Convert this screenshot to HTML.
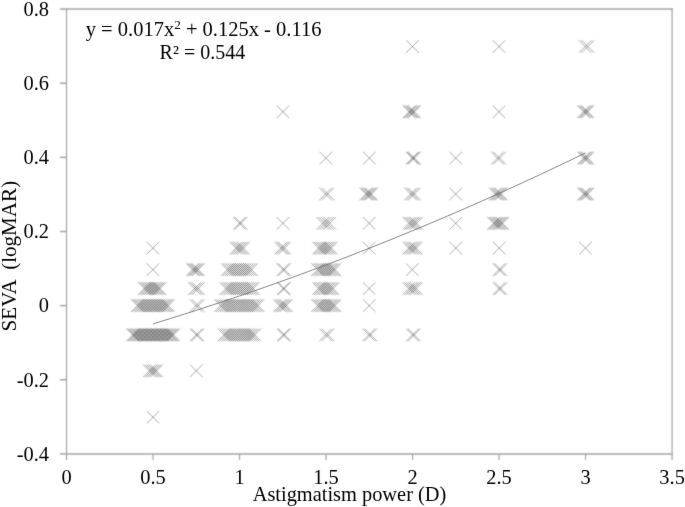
<!DOCTYPE html>
<html><head><meta charset="utf-8"><style>
html,body{margin:0;padding:0;background:#fff;}
svg{display:block;font-family:"Liberation Serif",serif;font-size:20.4px;fill:#000;}
</style></head><body>
<svg width="685" height="507" viewBox="0 0 685 507">
<defs><filter id="b" x="0" y="0" width="685" height="507" filterUnits="userSpaceOnUse" color-interpolation-filters="sRGB"><feConvolveMatrix order="3" kernelMatrix="1 2 1 2 12 2 1 2 1" edgeMode="duplicate" preserveAlpha="false"/></filter>
<filter id="t" x="0" y="0" width="685" height="507" filterUnits="userSpaceOnUse" color-interpolation-filters="sRGB"><feConvolveMatrix order="3" kernelMatrix="0 1 0 1 12 1 0 1 0" edgeMode="duplicate" preserveAlpha="false"/></filter></defs>
<g filter="url(#b)">
<rect width="685" height="507" fill="#fff"/>
<line x1="60.0" y1="9.1" x2="672.7" y2="9.1" stroke="#a4a4a4" stroke-width="1.5"/>
<line x1="65.9" y1="453.9" x2="672.7" y2="453.9" stroke="#a4a4a4" stroke-width="1.5"/>
<line x1="66.5" y1="8.35" x2="66.5" y2="459.9" stroke="#a4a4a4" stroke-width="1.2"/>
<line x1="672.1" y1="8.35" x2="672.1" y2="459.9" stroke="#a4a4a4" stroke-width="1.2"/>
<line x1="60.0" y1="83.23" x2="66.5" y2="83.23" stroke="#a4a4a4" stroke-width="1.5"/>
<line x1="60.0" y1="157.37" x2="66.5" y2="157.37" stroke="#a4a4a4" stroke-width="1.5"/>
<line x1="60.0" y1="231.50" x2="66.5" y2="231.50" stroke="#a4a4a4" stroke-width="1.5"/>
<line x1="60.0" y1="305.63" x2="66.5" y2="305.63" stroke="#a4a4a4" stroke-width="1.5"/>
<line x1="60.0" y1="379.77" x2="66.5" y2="379.77" stroke="#a4a4a4" stroke-width="1.5"/>
<line x1="60.0" y1="453.90" x2="66.5" y2="453.90" stroke="#a4a4a4" stroke-width="1.5"/>
<line x1="153.01" y1="453.9" x2="153.01" y2="459.9" stroke="#a4a4a4" stroke-width="1.2"/>
<line x1="239.53" y1="453.9" x2="239.53" y2="459.9" stroke="#a4a4a4" stroke-width="1.2"/>
<line x1="326.04" y1="453.9" x2="326.04" y2="459.9" stroke="#a4a4a4" stroke-width="1.2"/>
<line x1="412.56" y1="453.9" x2="412.56" y2="459.9" stroke="#a4a4a4" stroke-width="1.2"/>
<line x1="499.07" y1="453.9" x2="499.07" y2="459.9" stroke="#a4a4a4" stroke-width="1.2"/>
<line x1="585.59" y1="453.9" x2="585.59" y2="459.9" stroke="#a4a4a4" stroke-width="1.2"/>
<g stroke="#000" stroke-width="1.0" fill="none" stroke-opacity="0.33"><path d="M146.60 241.85L159.20 254.45M146.60 254.45L159.20 241.85"/><path d="M146.60 263.35L159.20 275.95M146.60 275.95L159.20 263.35"/><path d="M137.95 282.25L150.55 294.85M137.95 294.85L150.55 282.25"/><path d="M139.53 282.25L152.13 294.85M139.53 294.85L152.13 282.25"/><path d="M141.11 282.25L153.71 294.85M141.11 294.85L153.71 282.25"/><path d="M142.69 282.25L155.29 294.85M142.69 294.85L155.29 282.25"/><path d="M144.27 282.25L156.87 294.85M144.27 294.85L156.87 282.25"/><path d="M145.85 282.25L158.45 294.85M145.85 294.85L158.45 282.25"/><path d="M147.43 282.25L160.03 294.85M147.43 294.85L160.03 282.25"/><path d="M149.01 282.25L161.61 294.85M149.01 294.85L161.61 282.25"/><path d="M150.59 282.25L163.19 294.85M150.59 294.85L163.19 282.25"/><path d="M152.17 282.25L164.77 294.85M152.17 294.85L164.77 282.25"/><path d="M153.75 282.25L166.35 294.85M153.75 294.85L166.35 282.25"/><path d="M131.05 299.30L143.65 311.90M131.05 311.90L143.65 299.30"/><path d="M132.68 299.30L145.28 311.90M132.68 311.90L145.28 299.30"/><path d="M134.31 299.30L146.91 311.90M134.31 311.90L146.91 299.30"/><path d="M135.94 299.30L148.54 311.90M135.94 311.90L148.54 299.30"/><path d="M137.58 299.30L150.18 311.90M137.58 311.90L150.18 299.30"/><path d="M139.21 299.30L151.81 311.90M139.21 311.90L151.81 299.30"/><path d="M140.84 299.30L153.44 311.90M140.84 311.90L153.44 299.30"/><path d="M142.47 299.30L155.07 311.90M142.47 311.90L155.07 299.30"/><path d="M144.10 299.30L156.70 311.90M144.10 311.90L156.70 299.30"/><path d="M145.73 299.30L158.33 311.90M145.73 311.90L158.33 299.30"/><path d="M147.37 299.30L159.97 311.90M147.37 311.90L159.97 299.30"/><path d="M149.00 299.30L161.60 311.90M149.00 311.90L161.60 299.30"/><path d="M150.63 299.30L163.23 311.90M150.63 311.90L163.23 299.30"/><path d="M152.26 299.30L164.86 311.90M152.26 311.90L164.86 299.30"/><path d="M153.89 299.30L166.49 311.90M153.89 311.90L166.49 299.30"/><path d="M155.52 299.30L168.12 311.90M155.52 311.90L168.12 299.30"/><path d="M157.16 299.30L169.76 311.90M157.16 311.90L169.76 299.30"/><path d="M158.79 299.30L171.39 311.90M158.79 311.90L171.39 299.30"/><path d="M160.42 299.30L173.02 311.90M160.42 311.90L173.02 299.30"/><path d="M162.05 299.30L174.65 311.90M162.05 311.90L174.65 299.30"/><path d="M126.25 328.58L138.85 341.18M126.25 341.18L138.85 328.58"/><path d="M127.57 328.58L140.17 341.18M127.57 341.18L140.17 328.58"/><path d="M128.90 328.58L141.50 341.18M128.90 341.18L141.50 328.58"/><path d="M130.22 328.58L142.82 341.18M130.22 341.18L142.82 328.58"/><path d="M131.54 328.58L144.14 341.18M131.54 341.18L144.14 328.58"/><path d="M132.86 328.58L145.46 341.18M132.86 341.18L145.46 328.58"/><path d="M134.19 328.58L146.79 341.18M134.19 341.18L146.79 328.58"/><path d="M135.51 328.58L148.11 341.18M135.51 341.18L148.11 328.58"/><path d="M136.83 328.58L149.43 341.18M136.83 341.18L149.43 328.58"/><path d="M138.15 328.58L150.75 341.18M138.15 341.18L150.75 328.58"/><path d="M139.48 328.58L152.08 341.18M139.48 341.18L152.08 328.58"/><path d="M140.80 328.58L153.40 341.18M140.80 341.18L153.40 328.58"/><path d="M142.12 328.58L154.72 341.18M142.12 341.18L154.72 328.58"/><path d="M143.44 328.58L156.04 341.18M143.44 341.18L156.04 328.58"/><path d="M144.77 328.58L157.37 341.18M144.77 341.18L157.37 328.58"/><path d="M146.09 328.58L158.69 341.18M146.09 341.18L158.69 328.58"/><path d="M147.41 328.58L160.01 341.18M147.41 341.18L160.01 328.58"/><path d="M148.73 328.58L161.33 341.18M148.73 341.18L161.33 328.58"/><path d="M150.06 328.58L162.66 341.18M150.06 341.18L162.66 328.58"/><path d="M151.38 328.58L163.98 341.18M151.38 341.18L163.98 328.58"/><path d="M152.70 328.58L165.30 341.18M152.70 341.18L165.30 328.58"/><path d="M154.02 328.58L166.62 341.18M154.02 341.18L166.62 328.58"/><path d="M155.35 328.58L167.95 341.18M155.35 341.18L167.95 328.58"/><path d="M156.67 328.58L169.27 341.18M156.67 341.18L169.27 328.58"/><path d="M157.99 328.58L170.59 341.18M157.99 341.18L170.59 328.58"/><path d="M159.31 328.58L171.91 341.18M159.31 341.18L171.91 328.58"/><path d="M160.64 328.58L173.24 341.18M160.64 341.18L173.24 328.58"/><path d="M161.96 328.58L174.56 341.18M161.96 341.18L174.56 328.58"/><path d="M163.28 328.58L175.88 341.18M163.28 341.18L175.88 328.58"/><path d="M164.60 328.58L177.20 341.18M164.60 341.18L177.20 328.58"/><path d="M165.93 328.58L178.53 341.18M165.93 341.18L178.53 328.58"/><path d="M167.25 328.58L179.85 341.18M167.25 341.18L179.85 328.58"/><path d="M143.05 364.54L155.65 377.14M143.05 377.14L155.65 364.54"/><path d="M144.85 364.54L157.45 377.14M144.85 377.14L157.45 364.54"/><path d="M146.65 364.54L159.25 377.14M146.65 377.14L159.25 364.54"/><path d="M148.45 364.54L161.05 377.14M148.45 377.14L161.05 364.54"/><path d="M150.25 364.54L162.85 377.14M150.25 377.14L162.85 364.54"/><path d="M146.70 410.87L159.30 423.47M146.70 423.47L159.30 410.87"/><path d="M186.15 263.35L198.75 275.95M186.15 275.95L198.75 263.35"/><path d="M187.62 263.35L200.23 275.95M187.62 275.95L200.23 263.35"/><path d="M189.10 263.35L201.70 275.95M189.10 275.95L201.70 263.35"/><path d="M190.58 263.35L203.18 275.95M190.58 275.95L203.18 263.35"/><path d="M192.05 263.35L204.65 275.95M192.05 275.95L204.65 263.35"/><path d="M188.15 282.25L200.75 294.85M188.15 294.85L200.75 282.25"/><path d="M190.10 282.25L202.70 294.85M190.10 294.85L202.70 282.25"/><path d="M192.05 282.25L204.65 294.85M192.05 294.85L204.65 282.25"/><path d="M189.65 299.30L202.25 311.90M189.65 311.90L202.25 299.30"/><path d="M191.95 299.30L204.55 311.90M191.95 311.90L204.55 299.30"/><path d="M189.90 328.58L202.50 341.18M189.90 341.18L202.50 328.58"/><path d="M191.50 328.58L204.10 341.18M191.50 341.18L204.10 328.58"/><path d="M190.00 364.54L202.60 377.14M190.00 377.14L202.60 364.54"/><path d="M233.15 217.01L245.75 229.61M233.15 229.61L245.75 217.01"/><path d="M234.75 217.01L247.35 229.61M234.75 229.61L247.35 217.01"/><path d="M229.65 241.85L242.25 254.45M229.65 254.45L242.25 241.85"/><path d="M231.52 241.85L244.12 254.45M231.52 254.45L244.12 241.85"/><path d="M233.40 241.85L246.00 254.45M233.40 254.45L246.00 241.85"/><path d="M235.27 241.85L247.88 254.45M235.27 254.45L247.88 241.85"/><path d="M237.15 241.85L249.75 254.45M237.15 254.45L249.75 241.85"/><path d="M220.95 263.35L233.55 275.95M220.95 275.95L233.55 263.35"/><path d="M222.98 263.35L235.58 275.95M222.98 275.95L235.58 263.35"/><path d="M225.02 263.35L237.62 275.95M225.02 275.95L237.62 263.35"/><path d="M227.05 263.35L239.65 275.95M227.05 275.95L239.65 263.35"/><path d="M229.08 263.35L241.68 275.95M229.08 275.95L241.68 263.35"/><path d="M231.12 263.35L243.72 275.95M231.12 275.95L243.72 263.35"/><path d="M233.15 263.35L245.75 275.95M233.15 275.95L245.75 263.35"/><path d="M235.18 263.35L247.78 275.95M235.18 275.95L247.78 263.35"/><path d="M237.22 263.35L249.82 275.95M237.22 275.95L249.82 263.35"/><path d="M239.25 263.35L251.85 275.95M239.25 275.95L251.85 263.35"/><path d="M241.28 263.35L253.88 275.95M241.28 275.95L253.88 263.35"/><path d="M243.32 263.35L255.92 275.95M243.32 275.95L255.92 263.35"/><path d="M245.35 263.35L257.95 275.95M245.35 275.95L257.95 263.35"/><path d="M219.55 282.25L232.15 294.85M219.55 294.85L232.15 282.25"/><path d="M221.51 282.25L234.11 294.85M221.51 294.85L234.11 282.25"/><path d="M223.48 282.25L236.08 294.85M223.48 294.85L236.08 282.25"/><path d="M225.44 282.25L238.04 294.85M225.44 294.85L238.04 282.25"/><path d="M227.41 282.25L240.01 294.85M227.41 294.85L240.01 282.25"/><path d="M229.37 282.25L241.97 294.85M229.37 294.85L241.97 282.25"/><path d="M231.34 282.25L243.94 294.85M231.34 294.85L243.94 282.25"/><path d="M233.30 282.25L245.90 294.85M233.30 294.85L245.90 282.25"/><path d="M235.26 282.25L247.86 294.85M235.26 294.85L247.86 282.25"/><path d="M237.23 282.25L249.83 294.85M237.23 294.85L249.83 282.25"/><path d="M239.19 282.25L251.79 294.85M239.19 294.85L251.79 282.25"/><path d="M241.16 282.25L253.76 294.85M241.16 294.85L253.76 282.25"/><path d="M243.12 282.25L255.72 294.85M243.12 294.85L255.72 282.25"/><path d="M245.09 282.25L257.69 294.85M245.09 294.85L257.69 282.25"/><path d="M247.05 282.25L259.65 294.85M247.05 294.85L259.65 282.25"/><path d="M214.25 299.30L226.85 311.90M214.25 311.90L226.85 299.30"/><path d="M216.13 299.30L228.73 311.90M216.13 311.90L228.73 299.30"/><path d="M218.01 299.30L230.61 311.90M218.01 311.90L230.61 299.30"/><path d="M219.89 299.30L232.49 311.90M219.89 311.90L232.49 299.30"/><path d="M221.77 299.30L234.37 311.90M221.77 311.90L234.37 299.30"/><path d="M223.65 299.30L236.25 311.90M223.65 311.90L236.25 299.30"/><path d="M225.53 299.30L238.13 311.90M225.53 311.90L238.13 299.30"/><path d="M227.41 299.30L240.01 311.90M227.41 311.90L240.01 299.30"/><path d="M229.29 299.30L241.89 311.90M229.29 311.90L241.89 299.30"/><path d="M231.17 299.30L243.77 311.90M231.17 311.90L243.77 299.30"/><path d="M233.05 299.30L245.65 311.90M233.05 311.90L245.65 299.30"/><path d="M234.93 299.30L247.53 311.90M234.93 311.90L247.53 299.30"/><path d="M236.81 299.30L249.41 311.90M236.81 311.90L249.41 299.30"/><path d="M238.69 299.30L251.29 311.90M238.69 311.90L251.29 299.30"/><path d="M240.57 299.30L253.17 311.90M240.57 311.90L253.17 299.30"/><path d="M242.45 299.30L255.05 311.90M242.45 311.90L255.05 299.30"/><path d="M244.33 299.30L256.93 311.90M244.33 311.90L256.93 299.30"/><path d="M246.21 299.30L258.81 311.90M246.21 311.90L258.81 299.30"/><path d="M248.09 299.30L260.69 311.90M248.09 311.90L260.69 299.30"/><path d="M249.97 299.30L262.57 311.90M249.97 311.90L262.57 299.30"/><path d="M251.85 299.30L264.45 311.90M251.85 311.90L264.45 299.30"/><path d="M217.75 328.58L230.35 341.18M217.75 341.18L230.35 328.58"/><path d="M219.67 328.58L232.27 341.18M219.67 341.18L232.27 328.58"/><path d="M221.59 328.58L234.19 341.18M221.59 341.18L234.19 328.58"/><path d="M223.51 328.58L236.11 341.18M223.51 341.18L236.11 328.58"/><path d="M225.43 328.58L238.03 341.18M225.43 341.18L238.03 328.58"/><path d="M227.34 328.58L239.94 341.18M227.34 341.18L239.94 328.58"/><path d="M229.26 328.58L241.86 341.18M229.26 341.18L241.86 328.58"/><path d="M231.18 328.58L243.78 341.18M231.18 341.18L243.78 328.58"/><path d="M233.10 328.58L245.70 341.18M233.10 341.18L245.70 328.58"/><path d="M235.02 328.58L247.62 341.18M235.02 341.18L247.62 328.58"/><path d="M236.94 328.58L249.54 341.18M236.94 341.18L249.54 328.58"/><path d="M238.86 328.58L251.46 341.18M238.86 341.18L251.46 328.58"/><path d="M240.78 328.58L253.38 341.18M240.78 341.18L253.38 328.58"/><path d="M242.69 328.58L255.29 341.18M242.69 341.18L255.29 328.58"/><path d="M244.61 328.58L257.21 341.18M244.61 341.18L257.21 328.58"/><path d="M246.53 328.58L259.13 341.18M246.53 341.18L259.13 328.58"/><path d="M248.45 328.58L261.05 341.18M248.45 341.18L261.05 328.58"/><path d="M276.60 105.44L289.20 118.04M276.60 118.04L289.20 105.44"/><path d="M276.70 217.01L289.30 229.61M276.70 229.61L289.30 217.01"/><path d="M274.55 241.85L287.15 254.45M274.55 254.45L287.15 241.85"/><path d="M276.40 241.85L289.00 254.45M276.40 254.45L289.00 241.85"/><path d="M278.25 241.85L290.85 254.45M278.25 254.45L290.85 241.85"/><path d="M276.55 263.35L289.15 275.95M276.55 275.95L289.15 263.35"/><path d="M278.25 263.35L290.85 275.95M278.25 275.95L290.85 263.35"/><path d="M276.95 282.25L289.55 294.85M276.95 294.85L289.55 282.25"/><path d="M277.95 282.25L290.55 294.85M277.95 294.85L290.55 282.25"/><path d="M273.25 299.30L285.85 311.90M273.25 311.90L285.85 299.30"/><path d="M274.95 299.30L287.55 311.90M274.95 311.90L287.55 299.30"/><path d="M276.65 299.30L289.25 311.90M276.65 311.90L289.25 299.30"/><path d="M278.35 299.30L290.95 311.90M278.35 311.90L290.95 299.30"/><path d="M280.05 299.30L292.65 311.90M280.05 311.90L292.65 299.30"/><path d="M276.95 328.58L289.55 341.18M276.95 341.18L289.55 328.58"/><path d="M278.25 328.58L290.85 341.18M278.25 341.18L290.85 328.58"/><path d="M319.60 151.77L332.20 164.37M319.60 164.37L332.20 151.77"/><path d="M319.15 187.73L331.75 200.33M319.15 200.33L331.75 187.73"/><path d="M321.55 187.73L334.15 200.33M321.55 200.33L334.15 187.73"/><path d="M316.35 217.01L328.95 229.61M316.35 229.61L328.95 217.01"/><path d="M318.72 217.01L331.32 229.61M318.72 229.61L331.32 217.01"/><path d="M321.08 217.01L333.68 229.61M321.08 229.61L333.68 217.01"/><path d="M323.45 217.01L336.05 229.61M323.45 229.61L336.05 217.01"/><path d="M312.25 241.85L324.85 254.45M312.25 254.45L324.85 241.85"/><path d="M314.06 241.85L326.66 254.45M314.06 254.45L326.66 241.85"/><path d="M315.88 241.85L328.48 254.45M315.88 254.45L328.48 241.85"/><path d="M317.69 241.85L330.29 254.45M317.69 254.45L330.29 241.85"/><path d="M319.51 241.85L332.11 254.45M319.51 254.45L332.11 241.85"/><path d="M321.32 241.85L333.92 254.45M321.32 254.45L333.92 241.85"/><path d="M323.14 241.85L335.74 254.45M323.14 254.45L335.74 241.85"/><path d="M324.95 241.85L337.55 254.45M324.95 254.45L337.55 241.85"/><path d="M311.25 263.35L323.85 275.95M311.25 275.95L323.85 263.35"/><path d="M312.99 263.35L325.59 275.95M312.99 275.95L325.59 263.35"/><path d="M314.73 263.35L327.33 275.95M314.73 275.95L327.33 263.35"/><path d="M316.47 263.35L329.07 275.95M316.47 275.95L329.07 263.35"/><path d="M318.21 263.35L330.81 275.95M318.21 275.95L330.81 263.35"/><path d="M319.95 263.35L332.55 275.95M319.95 275.95L332.55 263.35"/><path d="M321.69 263.35L334.29 275.95M321.69 275.95L334.29 263.35"/><path d="M323.43 263.35L336.03 275.95M323.43 275.95L336.03 263.35"/><path d="M325.17 263.35L337.77 275.95M325.17 275.95L337.77 263.35"/><path d="M326.91 263.35L339.51 275.95M326.91 275.95L339.51 263.35"/><path d="M328.65 263.35L341.25 275.95M328.65 275.95L341.25 263.35"/><path d="M312.25 282.25L324.85 294.85M312.25 294.85L324.85 282.25"/><path d="M314.06 282.25L326.66 294.85M314.06 294.85L326.66 282.25"/><path d="M315.88 282.25L328.48 294.85M315.88 294.85L328.48 282.25"/><path d="M317.69 282.25L330.29 294.85M317.69 294.85L330.29 282.25"/><path d="M319.50 282.25L332.10 294.85M319.50 294.85L332.10 282.25"/><path d="M321.31 282.25L333.91 294.85M321.31 294.85L333.91 282.25"/><path d="M323.12 282.25L335.73 294.85M323.12 294.85L335.73 282.25"/><path d="M324.94 282.25L337.54 294.85M324.94 294.85L337.54 282.25"/><path d="M326.75 282.25L339.35 294.85M326.75 294.85L339.35 282.25"/><path d="M311.25 299.30L323.85 311.90M311.25 311.90L323.85 299.30"/><path d="M312.99 299.30L325.59 311.90M312.99 311.90L325.59 299.30"/><path d="M314.73 299.30L327.33 311.90M314.73 311.90L327.33 299.30"/><path d="M316.47 299.30L329.07 311.90M316.47 311.90L329.07 299.30"/><path d="M318.21 299.30L330.81 311.90M318.21 311.90L330.81 299.30"/><path d="M319.95 299.30L332.55 311.90M319.95 311.90L332.55 299.30"/><path d="M321.69 299.30L334.29 311.90M321.69 311.90L334.29 299.30"/><path d="M323.43 299.30L336.03 311.90M323.43 311.90L336.03 299.30"/><path d="M325.17 299.30L337.77 311.90M325.17 311.90L337.77 299.30"/><path d="M326.91 299.30L339.51 311.90M326.91 311.90L339.51 299.30"/><path d="M328.65 299.30L341.25 311.90M328.65 311.90L341.25 299.30"/><path d="M319.25 328.58L331.85 341.18M319.25 341.18L331.85 328.58"/><path d="M321.65 328.58L334.25 341.18M321.65 341.18L334.25 328.58"/><path d="M363.00 151.77L375.60 164.37M363.00 164.37L375.60 151.77"/><path d="M359.45 187.73L372.05 200.33M359.45 200.33L372.05 187.73"/><path d="M360.90 187.73L373.50 200.33M360.90 200.33L373.50 187.73"/><path d="M362.35 187.73L374.95 200.33M362.35 200.33L374.95 187.73"/><path d="M363.80 187.73L376.40 200.33M363.80 200.33L376.40 187.73"/><path d="M365.25 187.73L377.85 200.33M365.25 200.33L377.85 187.73"/><path d="M362.90 217.01L375.50 229.61M362.90 229.61L375.50 217.01"/><path d="M362.90 241.85L375.50 254.45M362.90 254.45L375.50 241.85"/><path d="M362.90 282.25L375.50 294.85M362.90 294.85L375.50 282.25"/><path d="M362.90 299.30L375.50 311.90M362.90 311.90L375.50 299.30"/><path d="M362.50 328.58L375.10 341.18M362.50 341.18L375.10 328.58"/><path d="M364.50 328.58L377.10 341.18M364.50 341.18L377.10 328.58"/><path d="M406.20 40.20L418.80 52.80M406.20 52.80L418.80 40.20"/><path d="M402.65 105.44L415.25 118.04M402.65 118.04L415.25 105.44"/><path d="M404.02 105.44L416.62 118.04M404.02 118.04L416.62 105.44"/><path d="M405.40 105.44L418.00 118.04M405.40 118.04L418.00 105.44"/><path d="M406.77 105.44L419.38 118.04M406.77 118.04L419.38 105.44"/><path d="M408.15 105.44L420.75 118.04M408.15 118.04L420.75 105.44"/><path d="M405.85 151.77L418.45 164.37M405.85 164.37L418.45 151.77"/><path d="M407.00 151.77L419.60 164.37M407.00 164.37L419.60 151.77"/><path d="M408.15 151.77L420.75 164.37M408.15 164.37L420.75 151.77"/><path d="M404.25 187.73L416.85 200.33M404.25 200.33L416.85 187.73"/><path d="M406.20 187.73L418.80 200.33M406.20 200.33L418.80 187.73"/><path d="M408.15 187.73L420.75 200.33M408.15 200.33L420.75 187.73"/><path d="M402.65 217.01L415.25 229.61M402.65 229.61L415.25 217.01"/><path d="M404.52 217.01L417.12 229.61M404.52 229.61L417.12 217.01"/><path d="M406.40 217.01L419.00 229.61M406.40 229.61L419.00 217.01"/><path d="M408.27 217.01L420.88 229.61M408.27 229.61L420.88 217.01"/><path d="M410.15 217.01L422.75 229.61M410.15 229.61L422.75 217.01"/><path d="M402.45 241.85L415.05 254.45M402.45 254.45L415.05 241.85"/><path d="M404.32 241.85L416.93 254.45M404.32 254.45L416.93 241.85"/><path d="M406.20 241.85L418.80 254.45M406.20 254.45L418.80 241.85"/><path d="M408.07 241.85L420.68 254.45M408.07 254.45L420.68 241.85"/><path d="M409.95 241.85L422.55 254.45M409.95 254.45L422.55 241.85"/><path d="M406.00 263.35L418.60 275.95M406.00 275.95L418.60 263.35"/><path d="M402.45 282.25L415.05 294.85M402.45 294.85L415.05 282.25"/><path d="M404.32 282.25L416.93 294.85M404.32 294.85L416.93 282.25"/><path d="M406.20 282.25L418.80 294.85M406.20 294.85L418.80 282.25"/><path d="M408.07 282.25L420.68 294.85M408.07 294.85L420.68 282.25"/><path d="M409.95 282.25L422.55 294.85M409.95 294.85L422.55 282.25"/><path d="M406.15 328.58L418.75 341.18M406.15 341.18L418.75 328.58"/><path d="M407.95 328.58L420.55 341.18M407.95 341.18L420.55 328.58"/><path d="M449.40 151.77L462.00 164.37M449.40 164.37L462.00 151.77"/><path d="M449.40 187.73L462.00 200.33M449.40 200.33L462.00 187.73"/><path d="M449.40 217.01L462.00 229.61M449.40 229.61L462.00 217.01"/><path d="M449.40 241.85L462.00 254.45M449.40 254.45L462.00 241.85"/><path d="M492.70 40.20L505.30 52.80M492.70 52.80L505.30 40.20"/><path d="M492.70 105.44L505.30 118.04M492.70 118.04L505.30 105.44"/><path d="M491.15 151.77L503.75 164.37M491.15 164.37L503.75 151.77"/><path d="M493.25 151.77L505.85 164.37M493.25 164.37L505.85 151.77"/><path d="M488.95 187.73L501.55 200.33M488.95 200.33L501.55 187.73"/><path d="M490.47 187.73L503.07 200.33M490.47 200.33L503.07 187.73"/><path d="M492.00 187.73L504.60 200.33M492.00 200.33L504.60 187.73"/><path d="M493.52 187.73L506.12 200.33M493.52 200.33L506.12 187.73"/><path d="M495.05 187.73L507.65 200.33M495.05 200.33L507.65 187.73"/><path d="M487.25 217.01L499.85 229.61M487.25 229.61L499.85 217.01"/><path d="M488.75 217.01L501.35 229.61M488.75 229.61L501.35 217.01"/><path d="M490.25 217.01L502.85 229.61M490.25 229.61L502.85 217.01"/><path d="M491.75 217.01L504.35 229.61M491.75 229.61L504.35 217.01"/><path d="M493.25 217.01L505.85 229.61M493.25 229.61L505.85 217.01"/><path d="M494.75 217.01L507.35 229.61M494.75 229.61L507.35 217.01"/><path d="M496.25 217.01L508.85 229.61M496.25 229.61L508.85 217.01"/><path d="M492.90 241.85L505.50 254.45M492.90 254.45L505.50 241.85"/><path d="M492.65 263.35L505.25 275.95M492.65 275.95L505.25 263.35"/><path d="M494.55 263.35L507.15 275.95M494.55 275.95L507.15 263.35"/><path d="M492.65 282.25L505.25 294.85M492.65 294.85L505.25 282.25"/><path d="M494.55 282.25L507.15 294.85M494.55 294.85L507.15 282.25"/><path d="M578.85 40.20L591.45 52.80M578.85 52.80L591.45 40.20"/><path d="M581.55 40.20L594.15 52.80M581.55 52.80L594.15 40.20"/><path d="M577.25 105.44L589.85 118.04M577.25 118.04L589.85 105.44"/><path d="M578.68 105.44L591.28 118.04M578.68 118.04L591.28 105.44"/><path d="M580.12 105.44L592.72 118.04M580.12 118.04L592.72 105.44"/><path d="M581.55 105.44L594.15 118.04M581.55 118.04L594.15 105.44"/><path d="M577.25 151.77L589.85 164.37M577.25 164.37L589.85 151.77"/><path d="M578.68 151.77L591.28 164.37M578.68 164.37L591.28 151.77"/><path d="M580.12 151.77L592.72 164.37M580.12 164.37L592.72 151.77"/><path d="M581.55 151.77L594.15 164.37M581.55 164.37L594.15 151.77"/><path d="M577.25 187.73L589.85 200.33M577.25 200.33L589.85 187.73"/><path d="M578.68 187.73L591.28 200.33M578.68 200.33L591.28 187.73"/><path d="M580.12 187.73L592.72 200.33M580.12 200.33L592.72 187.73"/><path d="M581.55 187.73L594.15 200.33M581.55 200.33L594.15 187.73"/><path d="M579.15 241.85L591.75 254.45M579.15 254.45L591.75 241.85"/></g>
</g>
<g filter="url(#t)">
<polyline points="153.01,323.86 161.67,321.21 170.32,318.53 178.97,315.82 187.62,313.08 196.27,310.30 204.92,307.50 213.57,304.66 222.23,301.79 230.88,298.89 239.53,295.96 248.18,293.00 256.83,290.01 265.48,286.98 274.13,283.92 282.79,280.83 291.44,277.71 300.09,274.56 308.74,271.38 317.39,268.17 326.04,264.92 334.69,261.64 343.35,258.33 352.00,254.99 360.65,251.62 369.30,248.22 377.95,244.78 386.60,241.31 395.25,237.82 403.91,234.29 412.56,230.73 421.21,227.13 429.86,223.51 438.51,219.85 447.16,216.17 455.81,212.45 464.47,208.70 473.12,204.91 481.77,201.10 490.42,197.26 499.07,193.38 507.72,189.47 516.37,185.53 525.03,181.56 533.68,177.56 542.33,173.53 550.98,169.46 559.63,165.36 568.28,161.24 576.93,157.08 585.59,152.89" fill="none" stroke="#707070" stroke-width="0.85"/>
<text x="49" y="15.9" text-anchor="end">0.8</text>
<text x="49" y="90.0" text-anchor="end">0.6</text>
<text x="49" y="164.2" text-anchor="end">0.4</text>
<text x="49" y="238.3" text-anchor="end">0.2</text>
<text x="49" y="312.4" text-anchor="end">0</text>
<text x="49" y="386.6" text-anchor="end">-0.2</text>
<text x="49" y="460.7" text-anchor="end">-0.4</text>
<text x="66.50" y="484" text-anchor="middle">0</text>
<text x="153.01" y="484" text-anchor="middle">0.5</text>
<text x="239.53" y="484" text-anchor="middle">1</text>
<text x="326.04" y="484" text-anchor="middle">1.5</text>
<text x="412.56" y="484" text-anchor="middle">2</text>
<text x="499.07" y="484" text-anchor="middle">2.5</text>
<text x="585.59" y="484" text-anchor="middle">3</text>
<text x="672.10" y="484" text-anchor="middle">3.5</text>
<text x="349.5" y="500.5" font-size="20.4" text-anchor="middle">Astigmatism power (D)</text>
<text transform="translate(16.0,256.2) rotate(-90)" font-size="21.1" text-anchor="middle" xml:space="preserve">SEVA  (logMAR)</text>
<text x="203.6" y="36.1" font-size="20.5" text-anchor="middle">y = 0.017x<tspan font-size="13.3" dy="-7.5">2</tspan><tspan dy="7.5"> + 0.125x - 0.116</tspan></text>
<text x="202.4" y="58.6" font-size="20.0" text-anchor="middle">R² = 0.544</text>
</g>
</svg>
</body></html>
